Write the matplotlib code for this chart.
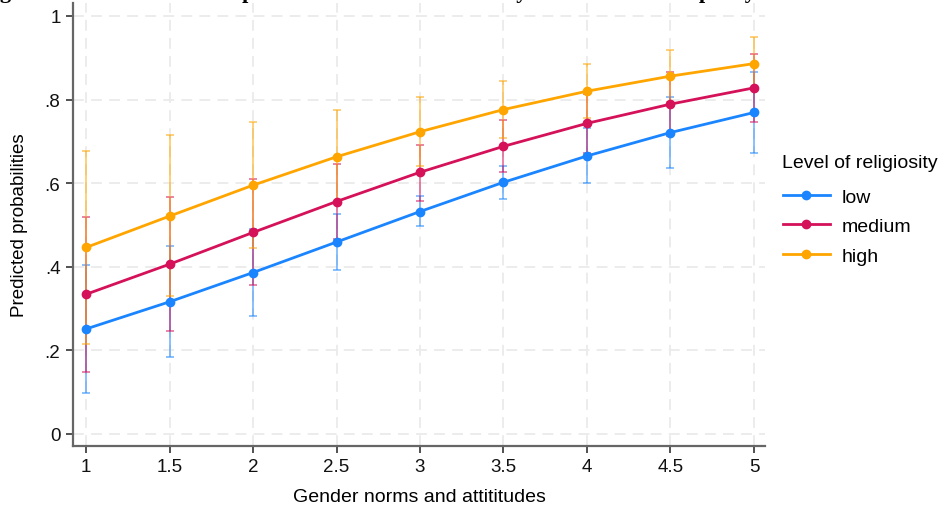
import numpy as np
import matplotlib
matplotlib.use("Agg")
import matplotlib.pyplot as plt

# predicted probabilities by gender norms score, per religiosity level
norms = [1, 1.5, 2, 2.5, 3, 3.5, 4, 4.5, 5]

low = [0.251, 0.316, 0.386, 0.459, 0.532, 0.602, 0.665, 0.721, 0.769]
low_lo = [0.099, 0.183, 0.283, 0.393, 0.497, 0.562, 0.600, 0.637, 0.673]
low_hi = [0.405, 0.450, 0.490, 0.526, 0.569, 0.642, 0.731, 0.805, 0.865]

medium = [0.334, 0.406, 0.482, 0.556, 0.626, 0.688, 0.743, 0.789, 0.828]
medium_lo = [0.148, 0.247, 0.356, 0.466, 0.558, 0.626, 0.673, 0.712, 0.746]
medium_hi = [0.520, 0.567, 0.609, 0.646, 0.691, 0.750, 0.813, 0.867, 0.910]

high = [0.446, 0.521, 0.595, 0.663, 0.723, 0.776, 0.820, 0.856, 0.886]
high_lo = [0.215, 0.330, 0.444, 0.552, 0.640, 0.707, 0.755, 0.793, 0.823]
high_hi = [0.677, 0.715, 0.746, 0.774, 0.807, 0.844, 0.884, 0.919, 0.949]

labels = ["low", "medium", "high"]
colors = ["#1A85FF", "#D41159", "#FFA500"]
yticks = [0, 0.2, 0.4, 0.6, 0.8, 1]
ytick_labels = ["0", ".2", ".4", ".6", ".8", "1"]
xticks = [1, 1.5, 2, 2.5, 3, 3.5, 4, 4.5, 5]
xtick_labels = ["1", "1.5", "2", "2.5", "3", "3.5", "4", "4.5", "5"]

plt.rcParams['font.family'] = ['Liberation Sans', 'DejaVu Sans']

fig = plt.figure(figsize=(9.44, 5.06), dpi=100)
ax = fig.add_axes([73/944, 1 - 447/506, (765 - 73)/944, (447 - 4)/506])

series = [(low, low_lo, low_hi), (medium, medium_lo, medium_hi), (high, high_lo, high_hi)]
for (y, lo, hi), col in zip(series, colors):
    y = np.array(y)
    err = np.vstack([y - np.array(lo), np.array(hi) - y])
    ax.errorbar(norms, y, yerr=err, fmt='none', ecolor=col, elinewidth=1.2,
                capsize=3, capthick=1.2, alpha=0.6, zorder=2)
for (y, lo, hi), col, lab in zip(series, colors, labels):
    ax.plot(norms, y, color=col, lw=2, marker='o', markersize=6, label=lab, zorder=3)

ax.set_xlim(0.922, 5.066)
ax.set_ylim(-0.029, 1.031)
ax.set_xticks(xticks)
ax.set_xticklabels(xtick_labels)
ax.set_yticks(yticks)
ax.set_yticklabels(ytick_labels)
ax.grid(True, color='#ebebeb', lw=1.3, linestyle=(0, (6, 4)))
ax.set_axisbelow(True)
for s in ['top', 'right']:
    ax.spines[s].set_visible(False)
for s in ['left', 'bottom']:
    ax.spines[s].set_color('#666666')
    ax.spines[s].set_linewidth(1.6)
ax.tick_params(direction='out', length=5, width=1.2, color='#333333',
               labelsize=13.5, labelcolor='#111111', pad=4)
ax.set_xlabel("Gender norms and attititudes", fontsize=14, labelpad=9)
ax.set_ylabel("Predicted probabilities", fontsize=13.5, labelpad=12)

# legend entries, with the title as separate text above them
fig.legend(loc='upper left', bbox_to_anchor=(783/944, 1 - 189/506), frameon=False,
           fontsize=14, handlelength=2.4, handletextpad=0.6, labelspacing=0.62,
           borderpad=0, borderaxespad=0)
fig.text(782/944, 1 - 163/506, "Level of religiosity", fontsize=14,
         ha='left', va='center')

# title sits above the canvas, only its descenders show
fig.text(-20/944, 1 + 2/506, "Figure 3: Attitudes and the predicted chance of a birth by level of childcare policy",
         fontsize=16, fontweight='bold', family=['Liberation Serif', 'DejaVu Serif'],
         ha='left', va='baseline')

fig.savefig("out.png", dpi=100)
